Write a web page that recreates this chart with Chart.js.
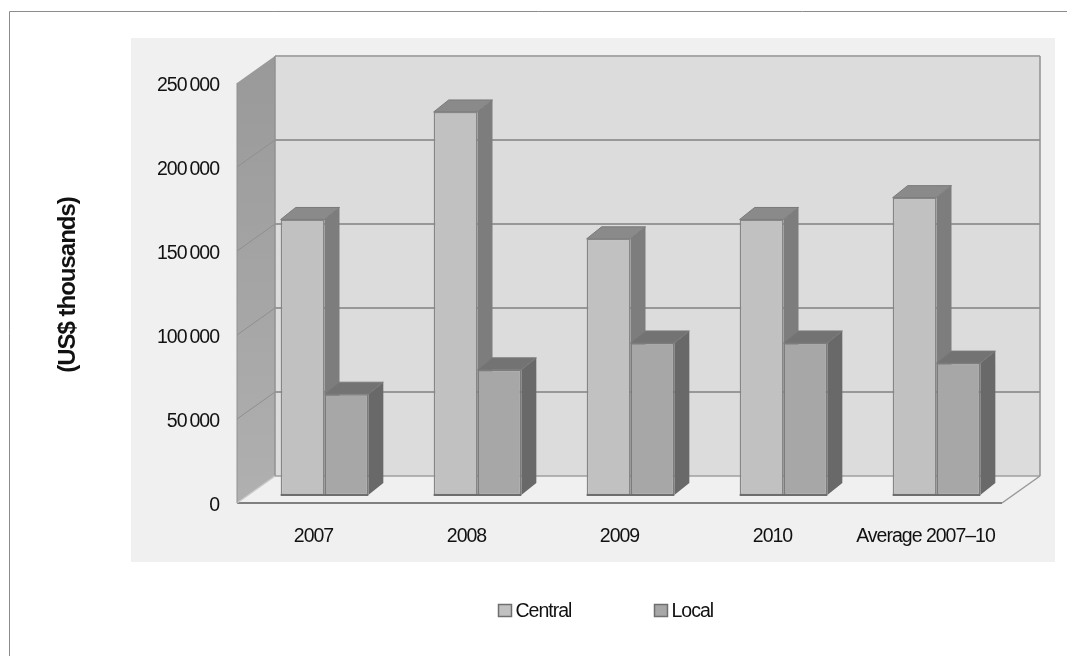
<!DOCTYPE html>
<html>
<head>
<meta charset="utf-8">
<style>
html, body { margin: 0; padding: 0; background: #ffffff; }
canvas { display: block; }
</style>
<script src="https://cdn.jsdelivr.net/npm/chart.js@4/dist/chart.umd.min.js"></script>
</head>
<body>
<canvas id="chart" width="1067" height="657"></canvas>
<script>
const categories = ['2007', '2008', '2009', '2010', 'Average 2007\u201310'];
const central = [164000, 228000, 152500, 164000, 177000];
const local = [60000, 74500, 90500, 90500, 78500];
const seriesNames = ['Central', 'Local'];
const axisTitle = '(US$ thousands)';

const FONT = '"Liberation Sans", Arial, sans-serif';
const LABEL_SIZE = 19.5;
const FRONT = { central: '#c1c1c1', local: '#a7a7a7' };
const TOP_FACE = { central: '#8a8a8a', local: '#737373' };
const SIDE_FACE = { central: '#7d7d7d', local: '#696969' };

// Offsets from the plane of the bars to the front and back of the box
const BOX_FRONT = { dx: -11, dy: 8 };
const BOX_BACK = { dx: 27, dy: -19 };
const BAR_DEPTH = { dx: 15, dy: -12 };

function poly(ctx, pts, fill, stroke, lineWidth) {
  ctx.beginPath();
  pts.forEach((p, i) => (i ? ctx.lineTo(p[0], p[1]) : ctx.moveTo(p[0], p[1])));
  ctx.closePath();
  if (fill) { ctx.fillStyle = fill; ctx.fill(); }
  if (stroke) { ctx.strokeStyle = stroke; ctx.lineWidth = lineWidth || 1; ctx.stroke(); }
}

function line(ctx, x1, y1, x2, y2, color, width) {
  ctx.beginPath();
  ctx.moveTo(x1, y1);
  ctx.lineTo(x2, y2);
  ctx.strokeStyle = color;
  ctx.lineWidth = width;
  ctx.stroke();
}

function sideFace(ctx, bar, color) {
  const { dx, dy } = BAR_DEPTH;
  const p = bar.getProps(['x', 'y', 'base', 'width'], true);
  const r = p.x + p.width / 2;
  poly(ctx, [[r, p.y], [r + dx, p.y + dy], [r + dx, p.base + dy], [r, p.base]], color);
}

function topFace(ctx, bar, color) {
  const { dx, dy } = BAR_DEPTH;
  const p = bar.getProps(['x', 'y', 'width'], true);
  const l = p.x - p.width / 2, r = p.x + p.width / 2;
  poly(ctx, [[l, p.y], [l + dx, p.y + dy], [r + dx, p.y + dy], [r, p.y]], color, '#7a7a7a', 1);
}

// Page frame, grey panel and the open 3D box behind the bars
const boxPlugin = {
  id: 'box',
  beforeDraw(chart) {
    const { ctx, scales: { x, y } } = chart;
    // all text on this chart is set tight
    ctx.letterSpacing = '-1px';

    ctx.save();
    line(ctx, 9.5, 11.5, 1067, 11.5, '#8c8c8c', 1);
    line(ctx, 9.5, 11.5, 9.5, 656, '#8c8c8c', 1);
    ctx.fillStyle = '#f0f0f0';
    ctx.fillRect(131, 38, 924, 524);

    const left = x.left, right = x.right;
    const y0 = y.getPixelForValue(0);
    const yMax = y.getPixelForValue(y.max);
    const bx = BOX_BACK.dx, by = BOX_BACK.dy, fx = BOX_FRONT.dx, fy = BOX_FRONT.dy;

    // back wall
    poly(ctx, [[left + bx, yMax + by], [right + bx, yMax + by], [right + bx, y0 + by], [left + bx, y0 + by]], '#dcdcdc');

    // left wall
    const wall = ctx.createLinearGradient(0, yMax + by, 0, y0 + fy);
    wall.addColorStop(0, '#999999');
    wall.addColorStop(1, '#b0b0b0');
    poly(ctx, [[left + fx, yMax + fy], [left + bx, yMax + by], [left + bx, y0 + by], [left + fx, y0 + fy]], wall);

    // grid lines run across the back wall and down the left wall
    y.ticks.forEach(t => {
      const py = y.getPixelForValue(t.value);
      if (t.value > 0) line(ctx, left + bx, py + by, right + bx, py + by, t.value === y.max ? '#a8a8a8' : '#989898', 2);
      if (t.value > 0 && t.value < y.max) line(ctx, left + fx, py + fy, left + bx, py + by, '#8f8f8f', 1);
    });
    line(ctx, left + bx, y0 + by, right + bx, y0 + by, '#a0a0a0', 1.5);
    line(ctx, left + bx, yMax + by, left + bx, y0 + by, '#929292', 1.5);
    line(ctx, right + bx, yMax + by, right + bx, y0 + by, '#929292', 1.5);

    // floor edges
    line(ctx, left + fx, y0 + fy, right + fx, y0 + fy, '#808080', 2);
    line(ctx, left + fx, y0 + fy, left + bx, y0 + by, '#c8c8c8', 1.5);
    line(ctx, right + fx, y0 + fy, right + bx, y0 + by, '#989898', 1.5);
    line(ctx, left + fx, yMax + fy, left + fx, y0 + fy, '#929292', 1);
    ctx.restore();
  },
  // Central side faces sit behind the Local bars, so they go first of all
  beforeDatasetsDraw(chart) {
    const { ctx } = chart;
    ctx.save();
    chart.getDatasetMeta(0).data.forEach(bar => sideFace(ctx, bar, SIDE_FACE.central));
    ctx.restore();
  },
  beforeDatasetDraw(chart, args) {
    const { ctx } = chart;
    ctx.save();
    args.meta.data.forEach(bar => {
      if (args.index === 1) sideFace(ctx, bar, SIDE_FACE.local);
      topFace(ctx, bar, args.index === 0 ? TOP_FACE.central : TOP_FACE.local);
    });
    ctx.restore();
  },
  afterDatasetsDraw(chart) {
    const { ctx } = chart;
    ctx.save();
    // dark foot under each pair of bars
    const metaA = chart.getDatasetMeta(0), metaB = chart.getDatasetMeta(1);
    metaA.data.forEach((bar, i) => {
      const a = bar.getProps(['x', 'base', 'width'], true);
      const b = metaB.data[i].getProps(['x', 'width'], true);
      line(ctx, a.x - a.width / 2, a.base, b.x + b.width / 2, a.base, '#6e6e6e', 2);
    });

    // legend with wide spacing between the two entries
    const swatchX = [498.5, 654.5];
    ctx.textAlign = 'left';
    ctx.textBaseline = 'middle';
    ctx.font = LABEL_SIZE + 'px ' + FONT;
    chart.data.datasets.forEach((ds, i) => {
      ctx.fillStyle = ds.backgroundColor;
      ctx.strokeStyle = '#6f6f6f';
      ctx.lineWidth = 1.5;
      ctx.fillRect(swatchX[i], 604.5, 13, 12);
      ctx.strokeRect(swatchX[i], 604.5, 13, 12);
      ctx.fillStyle = '#111111';
      ctx.fillText(ds.label, swatchX[i] + 17, 611.5);
    });
    ctx.restore();
  }
};

new Chart(document.getElementById('chart'), {
  type: 'bar',
  data: {
    labels: categories,
    datasets: [
      { label: seriesNames[0], data: central, backgroundColor: FRONT.central, borderColor: '#868686', borderWidth: 1.5, borderSkipped: false },
      { label: seriesNames[1], data: local, backgroundColor: FRONT.local, borderColor: '#7c7c7c', borderWidth: 1.5, borderSkipped: false }
    ]
  },
  plugins: [boxPlugin],
  options: {
    responsive: false,
    animation: false,
    layout: { padding: { left: 50, right: 54, top: 75, bottom: 100 } },
    datasets: { bar: { barPercentage: 1, categoryPercentage: 0.573 } },
    plugins: { legend: { display: false }, tooltip: { enabled: false }, title: { display: false } },
    scales: {
      x: {
        grid: { display: false, drawTicks: false },
        border: { display: false },
        afterFit(scale) { scale.height = 62; },
        ticks: { color: '#111111', font: { family: FONT, size: LABEL_SIZE }, padding: 30, labelOffset: -11, autoSkip: false, maxRotation: 0 }
      },
      y: {
        min: 0,
        max: 250000,
        grid: { display: false, drawTicks: false },
        border: { display: false },
        afterFit(scale) { scale.width = 198; },
        title: {
          display: true,
          text: axisTitle,
          color: '#111111',
          font: { family: FONT, size: 24, weight: 'bold' },
          padding: { top: 4, bottom: 0 }
        },
        ticks: {
          stepSize: 50000,
          color: '#111111',
          font: { family: FONT, size: LABEL_SIZE },
          padding: 29,
          labelOffset: 11,
          callback: v => String(v).replace(/\B(?=(\d{3})+$)/g, '\u2009')
        }
      }
    }
  }
});
</script>
</body>
</html>
